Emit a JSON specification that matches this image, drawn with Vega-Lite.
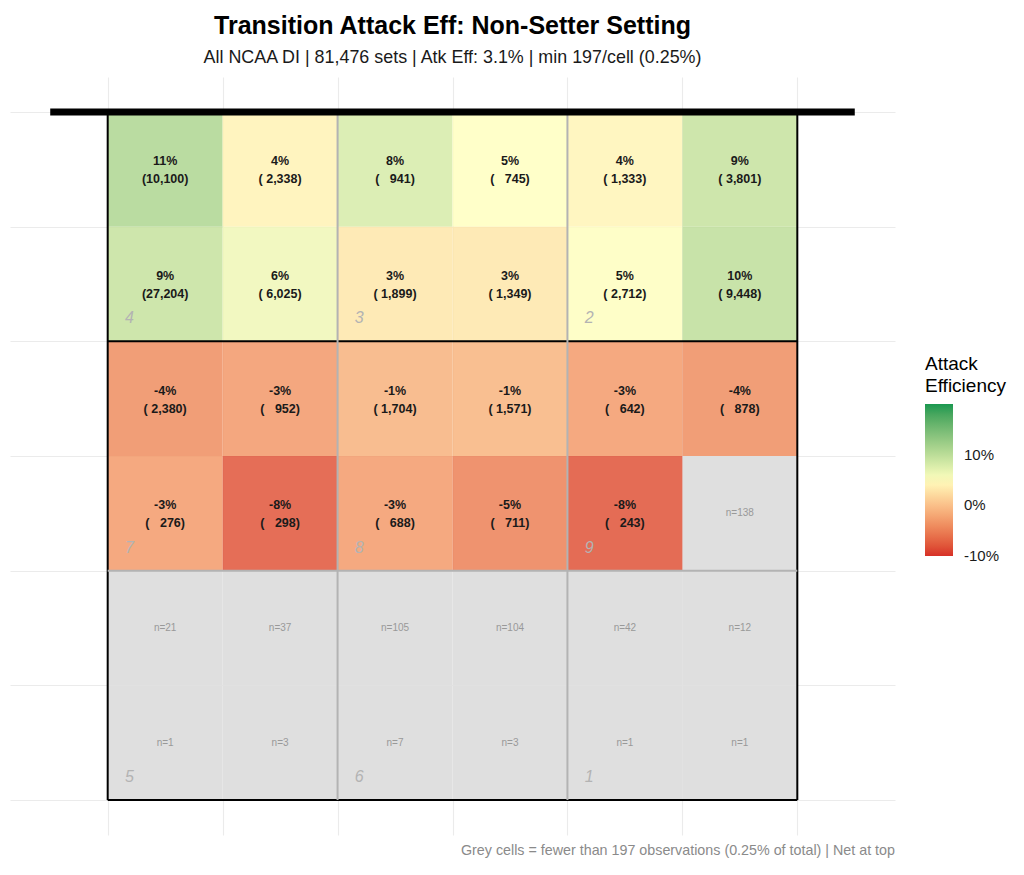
{
  "$schema": "https://vega.github.io/schema/vega-lite/v6.json",
  "width": 885,
  "height": 758,
  "autosize": {"type": "none"},
  "padding": {"left": 10, "top": 77, "right": 129, "bottom": 40},
  "background": "white",
  "config": {
    "view": {"stroke": null},
    "font": "Liberation Sans",
    "axis": {"grid": true, "gridColor": "#ebebeb", "gridWidth": 1.1, "labels": false, "ticks": false, "domain": false, "title": null}
  },
  "title": {
    "text": "Transition Attack Eff: Non-Setter Setting",
    "subtitle": "All NCAA DI | 81,476 sets | Atk Eff: 3.1% | min 197/cell (0.25%)",
    "anchor": "middle",
    "frame": "group",
    "font": "Liberation Sans",
    "fontSize": 25,
    "fontWeight": "bold",
    "color": "#000000",
    "subtitleFont": "Liberation Sans",
    "subtitleFontSize": 17.9,
    "subtitleColor": "#1a1a1a",
    "subtitlePadding": 10,
    "offset": 10
  },
  "datasets": {
    "cells": [
      {"cx": 0.5, "cy": 5.5, "eff": 0.110, "n": 10100, "label": "11%\n(10,100)"},
      {"cx": 1.5, "cy": 5.5, "eff": 0.040, "n": 2338, "label": "4%\n( 2,338)"},
      {"cx": 2.5, "cy": 5.5, "eff": 0.080, "n": 941, "label": "8%\n(\u00a0\u00a0 941)"},
      {"cx": 3.5, "cy": 5.5, "eff": 0.050, "n": 745, "label": "5%\n(\u00a0\u00a0 745)"},
      {"cx": 4.5, "cy": 5.5, "eff": 0.042, "n": 1333, "label": "4%\n( 1,333)"},
      {"cx": 5.5, "cy": 5.5, "eff": 0.092, "n": 3801, "label": "9%\n( 3,801)"},
      {"cx": 0.5, "cy": 4.5, "eff": 0.093, "n": 27204, "label": "9%\n(27,204)"},
      {"cx": 1.5, "cy": 4.5, "eff": 0.061, "n": 6025, "label": "6%\n( 6,025)"},
      {"cx": 2.5, "cy": 4.5, "eff": 0.030, "n": 1899, "label": "3%\n( 1,899)"},
      {"cx": 3.5, "cy": 4.5, "eff": 0.030, "n": 1349, "label": "3%\n( 1,349)"},
      {"cx": 4.5, "cy": 4.5, "eff": 0.051, "n": 2712, "label": "5%\n( 2,712)"},
      {"cx": 5.5, "cy": 4.5, "eff": 0.098, "n": 9448, "label": "10%\n( 9,448)"},
      {"cx": 0.5, "cy": 3.5, "eff": -0.040, "n": 2380, "label": "-4%\n( 2,380)"},
      {"cx": 1.5, "cy": 3.5, "eff": -0.032, "n": 952, "label": "-3%\n(\u00a0\u00a0 952)"},
      {"cx": 2.5, "cy": 3.5, "eff": -0.012, "n": 1704, "label": "-1%\n( 1,704)"},
      {"cx": 3.5, "cy": 3.5, "eff": -0.010, "n": 1571, "label": "-1%\n( 1,571)"},
      {"cx": 4.5, "cy": 3.5, "eff": -0.030, "n": 642, "label": "-3%\n(\u00a0\u00a0 642)"},
      {"cx": 5.5, "cy": 3.5, "eff": -0.040, "n": 878, "label": "-4%\n(\u00a0\u00a0 878)"},
      {"cx": 0.5, "cy": 2.5, "eff": -0.030, "n": 276, "label": "-3%\n(\u00a0\u00a0 276)"},
      {"cx": 1.5, "cy": 2.5, "eff": -0.080, "n": 298, "label": "-8%\n(\u00a0\u00a0 298)"},
      {"cx": 2.5, "cy": 2.5, "eff": -0.030, "n": 688, "label": "-3%\n(\u00a0\u00a0 688)"},
      {"cx": 3.5, "cy": 2.5, "eff": -0.050, "n": 711, "label": "-5%\n(\u00a0\u00a0 711)"},
      {"cx": 4.5, "cy": 2.5, "eff": -0.082, "n": 243, "label": "-8%\n(\u00a0\u00a0 243)"},
      {"cx": 5.5, "cy": 2.5, "eff": null, "n": 138, "label": "n=138"},
      {"cx": 0.5, "cy": 1.5, "eff": null, "n": 21, "label": "n=21"},
      {"cx": 1.5, "cy": 1.5, "eff": null, "n": 37, "label": "n=37"},
      {"cx": 2.5, "cy": 1.5, "eff": null, "n": 105, "label": "n=105"},
      {"cx": 3.5, "cy": 1.5, "eff": null, "n": 104, "label": "n=104"},
      {"cx": 4.5, "cy": 1.5, "eff": null, "n": 42, "label": "n=42"},
      {"cx": 5.5, "cy": 1.5, "eff": null, "n": 12, "label": "n=12"},
      {"cx": 0.5, "cy": 0.5, "eff": null, "n": 1, "label": "n=1"},
      {"cx": 1.5, "cy": 0.5, "eff": null, "n": 3, "label": "n=3"},
      {"cx": 2.5, "cy": 0.5, "eff": null, "n": 7, "label": "n=7"},
      {"cx": 3.5, "cy": 0.5, "eff": null, "n": 3, "label": "n=3"},
      {"cx": 4.5, "cy": 0.5, "eff": null, "n": 1, "label": "n=1"},
      {"cx": 5.5, "cy": 0.5, "eff": null, "n": 1, "label": "n=1"}
    ],
    "lines": [
      {"x1": 0, "x2": 6, "y1": 0, "y2": 0, "kind": "court"},
      {"x1": 0, "x2": 6, "y1": 6, "y2": 6, "kind": "court"},
      {"x1": 0, "x2": 0, "y1": 0, "y2": 6, "kind": "court"},
      {"x1": 6, "x2": 6, "y1": 0, "y2": 6, "kind": "court"},
      {"x1": 0, "x2": 6, "y1": 4, "y2": 4, "kind": "court"},
      {"x1": 2, "x2": 2, "y1": 0, "y2": 6, "kind": "zone"},
      {"x1": 4, "x2": 4, "y1": 0, "y2": 6, "kind": "zone"},
      {"x1": 0, "x2": 6, "y1": 2, "y2": 2, "kind": "zone"},
      {"x1": -0.5, "x2": 6.5, "y1": 6, "y2": 6, "kind": "net"}
    ],
    "zones": [
      {"zone": "4", "x": 0.15, "y": 4.2},
      {"zone": "3", "x": 2.15, "y": 4.2},
      {"zone": "2", "x": 4.15, "y": 4.2},
      {"zone": "7", "x": 0.15, "y": 2.2},
      {"zone": "8", "x": 2.15, "y": 2.2},
      {"zone": "9", "x": 4.15, "y": 2.2},
      {"zone": "5", "x": 0.15, "y": 0.2},
      {"zone": "6", "x": 2.15, "y": 0.2},
      {"zone": "1", "x": 4.15, "y": 0.2}
    ],
    "notes": [
      {"x": 6.85, "y": -0.445, "caption": "Grey cells = fewer than 197 observations (0.25% of total) | Net at top"}
    ]
  },
  "layer": [
    {
      "data": {"name": "cells"},
      "transform": [
        {"filter": "datum.n < 197"},
        {"calculate": "datum.cx - 0.5", "as": "xa"},
        {"calculate": "datum.cx + 0.5", "as": "xb"},
        {"calculate": "datum.cy - 0.5", "as": "ya"},
        {"calculate": "datum.cy + 0.5", "as": "yb"}
      ],
      "mark": {"type": "rect", "fill": "#dfdfdf", "strokeWidth": 0},
      "encoding": {
        "x": {"field": "xa", "type": "quantitative", "scale": {"domain": [-0.85, 6.85], "nice": false, "zero": false}, "axis": {"values": [0, 1, 2, 3, 4, 5, 6]}},
        "x2": {"field": "xb"},
        "y": {"field": "ya", "type": "quantitative", "scale": {"domain": [-0.305, 6.305], "nice": false, "zero": false}, "axis": {"values": [0, 1, 2, 3, 4, 5, 6]}},
        "y2": {"field": "yb"}
      }
    },
    {
      "data": {"name": "cells"},
      "transform": [
        {"filter": "datum.n >= 197"},
        {"calculate": "datum.cx - 0.5", "as": "xa"},
        {"calculate": "datum.cx + 0.5", "as": "xb"},
        {"calculate": "datum.cy - 0.5", "as": "ya"},
        {"calculate": "datum.cy + 0.5", "as": "yb"}
      ],
      "mark": {"type": "rect", "opacity": 0.85, "strokeWidth": 0},
      "encoding": {
        "x": {"field": "xa", "type": "quantitative"},
        "x2": {"field": "xb"},
        "y": {"field": "ya", "type": "quantitative"},
        "y2": {"field": "yb"},
        "color": {
          "field": "eff",
          "type": "quantitative",
          "scale": {"domain": [-0.1003, 0.05, 0.2], "range": ["#d73027", "#ffffbf", "#1a9850"], "interpolate": "lab", "clamp": true},
          "legend": {
            "title": ["Attack", "Efficiency"],
            "orient": "none",
            "legendX": 915,
            "legendY": 278,
            "values": [-0.1, 0, 0.1],
            "format": ".0%",
            "labelExpr": "replace(datum.label, '\u2212', '-')",
            "direction": "vertical",
            "gradientLength": 152,
            "gradientThickness": 28,
            "gradientStrokeWidth": 0,
            "gradientOpacity": 1,
            "titleFontSize": 19,
            "titleFontWeight": "normal",
            "titleColor": "#000000",
            "titleLineHeight": 22,
            "titlePadding": 8,
            "labelFontSize": 15,
            "labelColor": "#1a1a1a",
            "labelOffset": 11,
            "labelBaseline": "middle",
            "labelOverlap": false
          }
        }
      }
    },
    {
      "data": {"name": "lines"},
      "transform": [{"filter": "datum.kind == 'court'"}],
      "mark": {"type": "rule", "color": "#000000", "strokeWidth": 2},
      "encoding": {
        "x": {"field": "x1", "type": "quantitative"},
        "x2": {"field": "x2"},
        "y": {"field": "y1", "type": "quantitative"},
        "y2": {"field": "y2"}
      }
    },
    {
      "data": {"name": "lines"},
      "transform": [{"filter": "datum.kind == 'zone'"}],
      "mark": {"type": "rule", "color": "#b3b3b3", "strokeWidth": 2},
      "encoding": {
        "x": {"field": "x1", "type": "quantitative"},
        "x2": {"field": "x2"},
        "y": {"field": "y1", "type": "quantitative"},
        "y2": {"field": "y2"}
      }
    },
    {
      "data": {"name": "lines"},
      "transform": [{"filter": "datum.kind == 'net'"}],
      "mark": {"type": "rule", "color": "#000000", "strokeWidth": 7},
      "encoding": {
        "x": {"field": "x1", "type": "quantitative"},
        "x2": {"field": "x2"},
        "y": {"field": "y1", "type": "quantitative"},
        "y2": {"field": "y2"}
      }
    },
    {
      "data": {"name": "cells"},
      "transform": [{"filter": "datum.n >= 197"}],
      "mark": {"type": "text", "fontSize": 12.5, "fontWeight": "bold", "color": "#1a1a1a", "lineBreak": "\n", "lineHeight": 18, "baseline": "middle", "align": "center", "dy": -8},
      "encoding": {
        "x": {"field": "cx", "type": "quantitative"},
        "y": {"field": "cy", "type": "quantitative"},
        "text": {"field": "label"}
      }
    },
    {
      "data": {"name": "cells"},
      "transform": [{"filter": "datum.n < 197"}],
      "mark": {"type": "text", "fontSize": 10, "color": "#999999", "baseline": "middle", "align": "center"},
      "encoding": {
        "x": {"field": "cx", "type": "quantitative"},
        "y": {"field": "cy", "type": "quantitative"},
        "text": {"field": "label"}
      }
    },
    {
      "data": {"name": "zones"},
      "mark": {"type": "text", "fontSize": 16, "fontStyle": "italic", "color": "#b3b3b3", "baseline": "middle", "align": "left"},
      "encoding": {
        "x": {"field": "x", "type": "quantitative"},
        "y": {"field": "y", "type": "quantitative"},
        "text": {"field": "zone"}
      }
    },
    {
      "data": {"name": "notes"},
      "mark": {"type": "text", "fontSize": 14.3, "color": "#8a8a8a", "baseline": "middle", "align": "right", "clip": false},
      "encoding": {
        "x": {"field": "x", "type": "quantitative"},
        "y": {"field": "y", "type": "quantitative"},
        "text": {"field": "caption"}
      }
    }
  ]
}
